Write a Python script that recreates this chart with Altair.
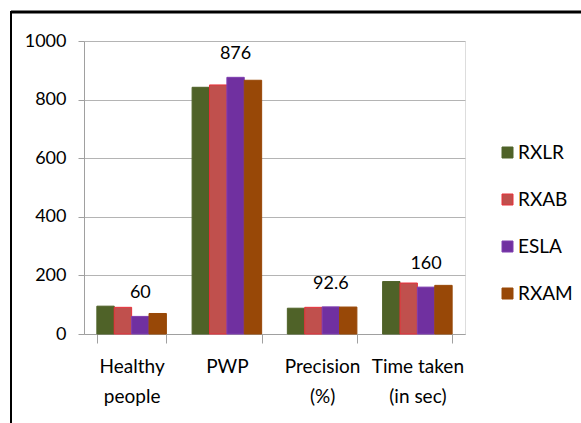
import altair as alt
import pandas as pd

categories = ["Healthy people", "PWP", "Precision (%)", "Time taken (in sec)"]
series = ["RXLR", "RXAB", "ESLA", "RXAM"]
rxlr = [95, 842, 88, 179]
rxab = [91, 850, 91, 174]
esla = [60, 876, 92.6, 160]
rxam = [70, 866, 92, 166]
label_text = ["60", "876", "92.6", "160"]

fills = ["#4F6228", "#C0504D", "#7030A0", "#984807"]
strokes = ["#4F6228", "#E8303A", "#7F3FB0", "#984807"]

rows = []
for name, vals in zip(series, [rxlr, rxab, esla, rxam]):
    for c, v in zip(categories, vals):
        rows.append({"cat": c, "series": name, "value": v})
df = pd.DataFrame(rows)

lab_df = pd.DataFrame({"cat": categories, "series": ["ESLA"] * 4, "value": esla, "label": label_text})

FONT = "Lato"

line_map = {
    "Healthy people": ["Healthy", "people"],
    "PWP": ["PWP"],
    "Precision (%)": ["Precision", "(%)"],
    "Time taken (in sec)": ["Time taken", "(in sec)"],
}
expr = " : ".join(
    [f"datum.label == '{k}' ? {v}" for k, v in line_map.items()]
) + " : datum.label"

xscale = alt.Scale(paddingInner=0.27, paddingOuter=0.135)

bars = alt.Chart(df).mark_bar(strokeWidth=1).encode(
    x=alt.X("cat:N", sort=categories, scale=xscale, title=None,
            axis=alt.Axis(labelAngle=0, labelExpr=expr, tickBand="extent",
                          labelFont=FONT, labelFontSize=19, labelColor="#000000",
                          labelPadding=14, labelLineHeight=30, labelBaseline="top",
                          domainColor="#a0a0a0", tickColor="#a0a0a0", tickSize=9,
                          grid=False)),
    xOffset=alt.XOffset("series:N", sort=series),
    y=alt.Y("value:Q", scale=alt.Scale(domain=[0, 1000]), title=None,
            axis=alt.Axis(values=[0, 200, 400, 600, 800, 1000], format="d", labelFont=FONT,
                          labelFontSize=18, labelColor="#000000", labelPadding=12,
                          domainColor="#a0a0a0", tickColor="#a0a0a0", tickSize=6,
                          gridColor="#b4b4b4", gridWidth=1)),
    fill=alt.Fill("series:N", sort=series,
                  scale=alt.Scale(domain=series, range=fills),
                  legend=alt.Legend(title=None, orient="none", legendX=414, legendY=102,
                                    symbolType="square", symbolSize=121,
                                    labelFont=FONT, labelFontSize=19, labelColor="#000000",
                                    rowPadding=27, labelOffset=1, symbolStrokeWidth=1)),
    stroke=alt.Stroke("series:N", sort=series,
                      scale=alt.Scale(domain=series, range=strokes), legend=None),
)

labels = alt.Chart(lab_df).mark_text(font=FONT, fontSize=18, color="#000000",
                                     baseline="middle", dy=-23).encode(
    x=alt.X("cat:N", sort=categories, scale=xscale),
    xOffset=alt.XOffset("series:N", sort=series, scale=alt.Scale(domain=series)),
    y="value:Q",
    text="label:N",
)

frame_top = alt.Chart(pd.DataFrame({"a": [0]})).mark_rule(color="#000000", strokeWidth=3).encode(
    x=alt.value(-73), x2=alt.value(497), y=alt.value(-29)
)
frame_left = alt.Chart(pd.DataFrame({"a": [0]})).mark_rule(color="#000000", strokeWidth=2).encode(
    x=alt.value(-73), y=alt.value(-30), y2=alt.value(382)
)

chart = alt.layer(bars, labels, frame_top, frame_left).properties(
    width=381, height=293,
    autosize=alt.AutoSizeParams(type="none"),
    padding={"left": 84, "top": 41, "right": 116, "bottom": 89},
).configure_view(stroke=None).configure(background="#ffffff")

chart.save("out.html", embed_options={"renderer": "svg", "actions": False})
